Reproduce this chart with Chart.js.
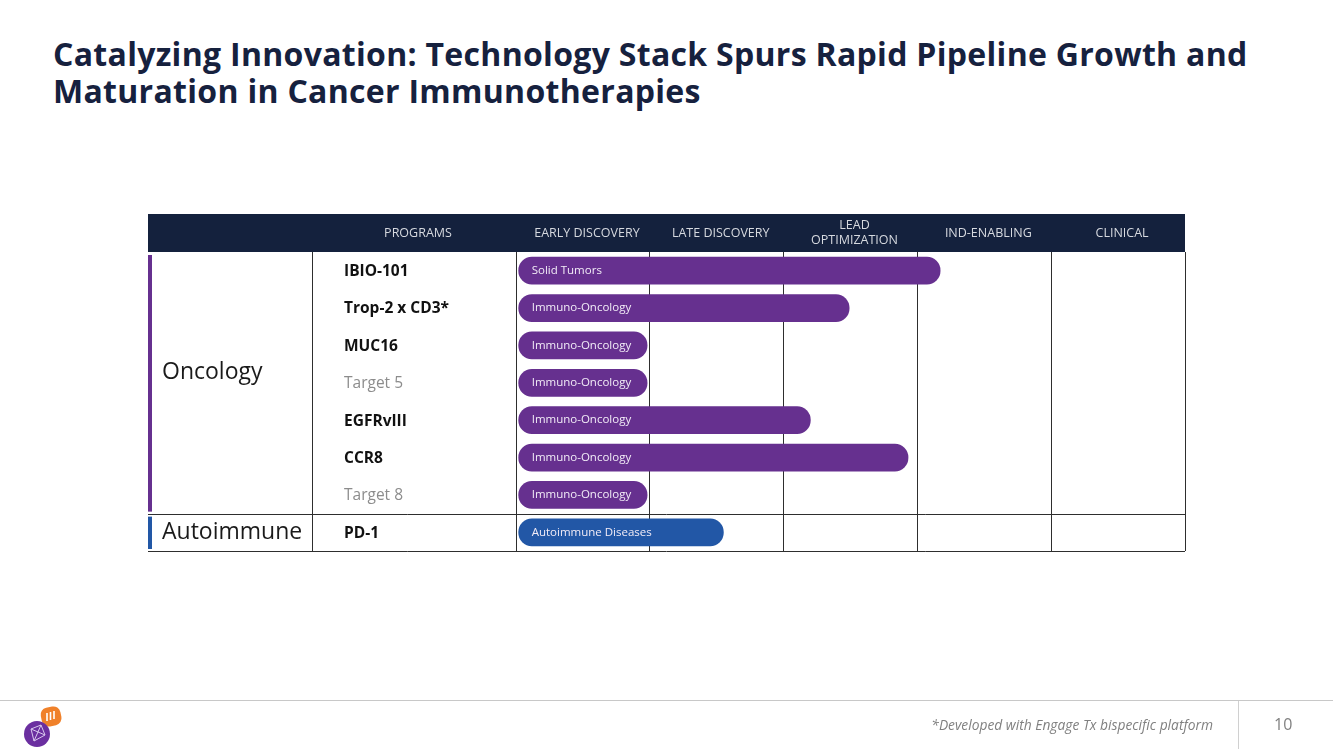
<!DOCTYPE html>
<html>
<head>
<meta charset="utf-8">
<script src="https://cdn.jsdelivr.net/npm/chart.js@4.4.1/dist/chart.umd.min.js"></script>
<style>
  html, body { margin: 0; padding: 0; background: #fff; }
  body { width: 1333px; height: 749px; position: relative; overflow: hidden; font-family: "Open Sans", "DejaVu Sans", sans-serif; font-variant-ligatures: none; }
  #title { position: absolute; left: 53px; top: 35px; margin: 0; font-size: 32px; letter-spacing: 0.3px; line-height: 37px; font-weight: 700; color: #16213e; white-space: nowrap; }
  #chart { position: absolute; left: 0; top: 0; }
  #footer-line { position: absolute; left: 0; top: 700px; width: 1333px; height: 1px; background: #c8c8c8; }
  #page-sep { position: absolute; left: 1238px; top: 701px; width: 1px; height: 48px; background: #d0d0d0; }
  #footnote { position: absolute; right: 120px; top: 715px; font-size: 13.8px; font-style: italic; color: #808080; }
  #page-num { position: absolute; left: 1274px; top: 713px; font-size: 16px; color: #808080; }
  #logo { position: absolute; left: 20px; top: 704px; }
</style>
</head>
<body>
<h1 id="title">Catalyzing Innovation: Technology Stack Spurs Rapid Pipeline Growth and<br>Maturation in Cancer Immunotherapies</h1>
<canvas id="chart" width="1333" height="749"></canvas>
<div id="footer-line"></div>
<div id="page-sep"></div>
<div id="footnote">*Developed with Engage Tx bispecific platform</div>
<div id="page-num">10</div>
<svg id="logo" width="44" height="45" viewBox="0 0 44 45">
  <rect x="21" y="3" width="20" height="19" rx="7" fill="#f0812a" transform="rotate(-12 31 12)"/>
  <circle cx="17" cy="30" r="13" fill="#6b2fa0"/>
  <path d="M11 25 L21 21 L25 31 L14 37 Z M11 25 L25 31 M21 21 L14 37" stroke="#d9c8ee" stroke-width="1" fill="none"/>
  <path d="M27 9 v8 M30.5 8 v8 M34 7 v8" stroke="#fff" stroke-width="1.6"/>
</svg>

<script>
// pipeline stages (columns)
const stages = ["EARLY DISCOVERY", "LATE DISCOVERY", "LEAD\nOPTIMIZATION", "IND-ENABLING", "CLINICAL"];
const programsHeader = "PROGRAMS";

// one row per program
const programs = ["IBIO-101", "Trop-2 x CD3*", "MUC16", "Target 5", "EGFRvIII", "CCR8", "Target 8", "PD-1"];
const areas = ["Oncology", "Oncology", "Oncology", "Oncology", "Oncology", "Oncology", "Oncology", "Autoimmune"];
const indications = ["Solid Tumors", "Immuno-Oncology", "Immuno-Oncology", "Immuno-Oncology",
                     "Immuno-Oncology", "Immuno-Oncology", "Immuno-Oncology", "Autoimmune Diseases"];

// progress in stage units (0 = start of early discovery, 5 = end of clinical)
const progressStart = [0.02, 0.02, 0.02, 0.02, 0.02, 0.02, 0.02, 0.02];
const progressEnd = [3.17, 2.49, 0.98, 0.98, 2.20, 2.93, 0.98, 1.55];

const areaColors = { "Oncology": "#66308f", "Autoimmune": "#2257a6" };

const TABLE_LEFT = 148;
const PROGRAMS_LEFT = 312;
const HEADER_TOP = 214;
const LINE_COLOR = "#2e2e2e";
const FONT = "'Open Sans', 'DejaVu Sans', sans-serif";

// draws the header band, left columns, borders and bar captions
const tablePlugin = {
    id: "pipelineTable",
    beforeDatasetsDraw(chart) {
        const { ctx, chartArea, scales: { x, y } } = chart;
        const half = (y.getPixelForValue(1) - y.getPixelForValue(0)) / 2;
        ctx.save();

        // header band
        ctx.fillStyle = "#14213d";
        ctx.fillRect(TABLE_LEFT, HEADER_TOP, chartArea.right - TABLE_LEFT, chartArea.top - HEADER_TOP);
        ctx.fillStyle = "#d6d9df";
        ctx.font = "12.5px " + FONT;
        ctx.textAlign = "center";
        ctx.textBaseline = "middle";
        const headMid = (HEADER_TOP + chartArea.top) / 2;
        ctx.fillText(programsHeader, (PROGRAMS_LEFT + chartArea.left) / 2 + 4, headMid);
        stages.forEach((s, i) => {
            const cx = x.getPixelForValue(i + 0.5) + 4;
            const lines = s.split("\n");
            lines.forEach((l, j) => {
                ctx.fillText(l, cx, headMid + (j - (lines.length - 1) / 2) * 15);
            });
        });

        // vertical border between area and program columns
        ctx.strokeStyle = LINE_COLOR;
        ctx.lineWidth = 1;
        ctx.beginPath();
        ctx.moveTo(PROGRAMS_LEFT + 0.5, chartArea.top);
        ctx.lineTo(PROGRAMS_LEFT + 0.5, chartArea.bottom);
        ctx.stroke();

        // group rows: accent bar, label, bottom border
        let i = 0;
        while (i < areas.length) {
            let j = i;
            while (j + 1 < areas.length && areas[j + 1] === areas[i]) j++;
            const top = y.getPixelForValue(i) - half;
            const bottom = y.getPixelForValue(j) + half;
            ctx.fillStyle = areaColors[areas[i]];
            ctx.fillRect(TABLE_LEFT, top + 3, 4, bottom - top - 5);
            ctx.fillStyle = "#1a1a1a";
            ctx.font = "23px " + FONT;
            ctx.textAlign = "left";
            ctx.textBaseline = "middle";
            const mid = (top + bottom) / 2 - (j > i ? 10 : 0);
            ctx.fillText(areas[i], TABLE_LEFT + 14, mid);
            ctx.strokeStyle = LINE_COLOR;
            ctx.beginPath();
            ctx.moveTo(TABLE_LEFT, Math.round(bottom) + 0.5);
            ctx.lineTo(chartArea.right, Math.round(bottom) + 0.5);
            ctx.stroke();
            i = j + 1;
        }

        // program names
        programs.forEach((p, k) => {
            const placeholder = /^Target/.test(p);
            ctx.font = (placeholder ? "" : "bold ") + "15.5px " + FONT;
            ctx.fillStyle = placeholder ? "#8c8c8c" : "#111111";
            ctx.textAlign = "left";
            ctx.fillText(p, 344, y.getPixelForValue(k) + 1);
        });
        ctx.restore();
    },
    afterDatasetsDraw(chart) {
        const { ctx, scales: { x, y } } = chart;
        ctx.save();
        ctx.font = "11.5px " + FONT;
        ctx.fillStyle = "#f2ecf7";
        ctx.textAlign = "left";
        ctx.textBaseline = "middle";
        indications.forEach((t, k) => {
            ctx.fillText(t, x.getPixelForValue(progressStart[k]) + 13, y.getPixelForValue(k));
        });
        ctx.restore();
    }
};

new Chart(document.getElementById("chart"), {
    type: "bar",
    data: {
        labels: programs,
        datasets: [{
            data: programs.map((p, k) => [progressStart[k], progressEnd[k]]),
            backgroundColor: areas.map(a => areaColors[a]),
            barThickness: 27,
            borderRadius: 14,
            borderSkipped: false
        }]
    },
    options: {
        indexAxis: "y",
        responsive: false,
        animation: false,
        layout: { padding: { left: 516, right: 148, top: 252, bottom: 198 } },
        plugins: { legend: { display: false }, tooltip: { enabled: false } },
        scales: {
            x: {
                min: 0,
                max: 5,
                ticks: { display: false, stepSize: 1 },
                grid: { color: LINE_COLOR, lineWidth: 1, drawTicks: false },
                border: { display: false },
                afterFit: (s) => { s.height = 0; }
            },
            y: { display: false }
        }
    },
    plugins: [tablePlugin]
});
</script>
</body>
</html>
